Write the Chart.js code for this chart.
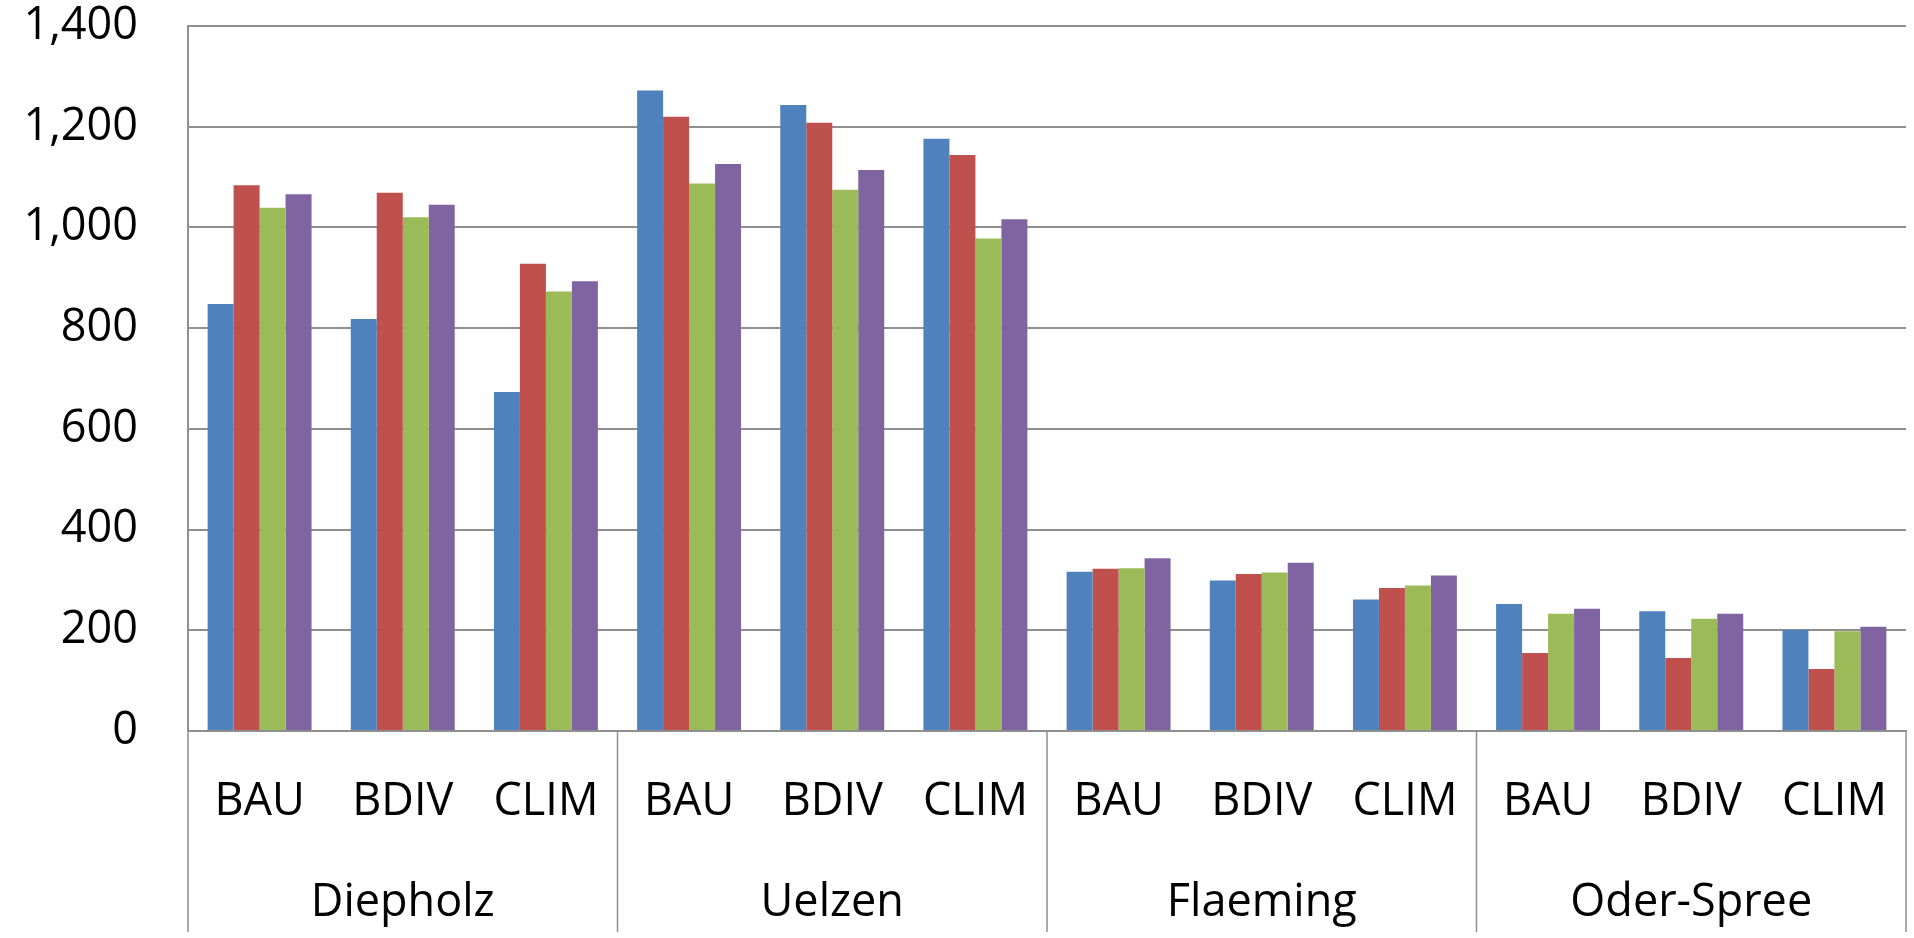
<!DOCTYPE html>
<html>
<head>
<meta charset="utf-8">
<title>Scenario comparison by region</title>
<script src="https://cdn.jsdelivr.net/npm/chart.js@4/dist/chart.umd.min.js"></script>
<style>
  html, body { margin: 0; padding: 0; background: #ffffff; overflow: hidden; }
  canvas { display: block; }
</style>
</head>
<body>
<canvas id="chart" width="1914" height="938"></canvas>
<script>
// Regions (outer axis level) and scenarios (inner axis level)
const regions = ['Diepholz', 'Uelzen', 'Flaeming', 'Oder-Spree'];
const scenarios = ['BAU', 'BDIV', 'CLIM'];

// One value per region/scenario pair, in region order then scenario order
const series1 = [848, 818, 673, 1272, 1243, 1176, 316, 299, 261, 252, 238, 201];
const series2 = [1084, 1069, 928, 1220, 1208, 1144, 322, 312, 284, 155, 145, 123];
const series3 = [1039, 1020, 873, 1087, 1075, 978, 323, 315, 289, 233, 223, 198];
const series4 = [1066, 1045, 893, 1126, 1114, 1016, 343, 334, 309, 243, 233, 207];

// Value axis range
const yMin = 0;
const yMax = 1400;
const yStep = 200;

const seriesColors = ['#4F81BD', '#C0504D', '#9BBB59', '#8064A2'];
const lineColor = '#8f8f8f';
const fontFamily = "'Open Sans', 'Noto Sans', 'DejaVu Sans', sans-serif";

const labels = regions.flatMap(() => scenarios);

// Vertical separators between the region groups, running through both label rows
const groupSeparators = {
  id: 'groupSeparators',
  afterDraw(chart) {
    const xs = chart.scales.x;
    const outer = chart.scales.x2;
    const per = scenarios.length;
    const ctx = chart.ctx;
    ctx.save();
    ctx.strokeStyle = lineColor;
    ctx.lineWidth = 1.5;
    for (let k = 0; k <= regions.length; k++) {
      const idx = k * per;
      let px;
      if (k === 0) px = xs.left;
      else if (k === regions.length) px = xs.right;
      else px = (xs.getPixelForTick(idx - 1) + xs.getPixelForTick(idx)) / 2;
      ctx.beginPath();
      ctx.moveTo(px, xs.top);
      ctx.lineTo(px, outer.bottom);
      ctx.stroke();
    }
    ctx.restore();
  }
};

// Keep the plot area governed by the layout padding rather than label overhang
function noSidePadding(scale) {
  scale.paddingLeft = 0;
  scale.paddingRight = 0;
}

new Chart(document.getElementById('chart'), {
  type: 'bar',
  data: {
    labels: labels,
    datasets: [series1, series2, series3, series4].map((values, i) => ({
      label: 'Series ' + (i + 1),
      data: values,
      backgroundColor: seriesColors[i],
      borderWidth: 0,
      categoryPercentage: 0.726,
      barPercentage: 1.0
    }))
  },
  options: {
    responsive: false,
    devicePixelRatio: 1,
    animation: false,
    layout: { padding: { left: 0, right: 8, top: 26, bottom: 6 } },
    plugins: {
      legend: { display: false },
      tooltip: { enabled: false }
    },
    scales: {
      y: {
        min: yMin,
        max: yMax,
        afterFit(scale) {
          scale.width = 188;
          scale.paddingTop = 0;
          scale.paddingBottom = 0;
        },
        ticks: {
          stepSize: yStep,
          padding: 50,
          color: '#000000',
          font: { family: fontFamily, size: 45 },
          callback: (v) => Number(v).toLocaleString('en-US')
        },
        grid: { color: lineColor, lineWidth: 2, drawTicks: false },
        border: { display: true, color: lineColor, width: 2 }
      },
      x: {
        position: 'bottom',
        offset: true,
        afterFit(scale) { scale.height = 120; noSidePadding(scale); },
        ticks: {
          padding: 44,
          color: '#000000',
          maxRotation: 0,
          autoSkip: false,
          font: { family: fontFamily, size: 45 }
        },
        grid: { display: false, drawTicks: false },
        border: { display: true, color: lineColor, width: 2 }
      },
      x2: {
        type: 'category',
        labels: regions,
        position: 'bottom',
        offset: true,
        ticks: {
          padding: 25,
          color: '#000000',
          maxRotation: 0,
          autoSkip: false,
          font: { family: fontFamily, size: 45 }
        },
        afterFit(scale) { scale.height = 81; noSidePadding(scale); },
        grid: { display: false, drawTicks: false },
        border: { display: false }
      }
    }
  },
  plugins: [groupSeparators]
});
</script>
</body>
</html>
